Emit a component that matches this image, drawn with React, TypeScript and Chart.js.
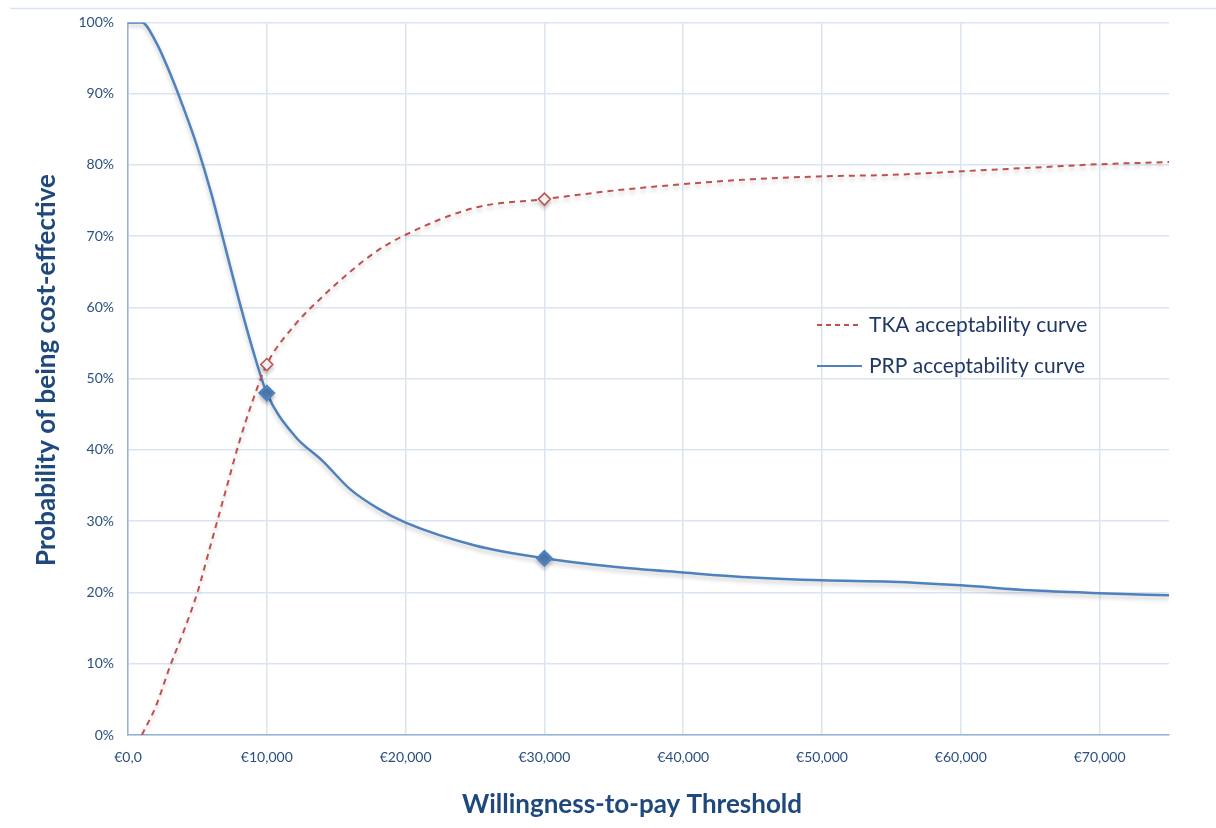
import React, { useEffect, useRef } from "react";
import { Chart, registerables } from "chart.js";

Chart.register(...registerables);

const wtp = [0, 1000, 2000, 3000, 4000, 5000, 6000, 7000, 8000, 9000, 10000, 12000, 14000, 16000, 18000, 20000, 25000, 30000, 35000, 40000, 45000, 50000, 55000, 60000, 65000, 70000, 75000];
const tka = [null, 0, 4, 9.5, 14.5, 20, 27, 34, 41, 47, 52, 57.5, 61.5, 65, 68, 70.2, 74, 75.2, 76.4, 77.3, 78, 78.4, 78.6, 79.1, 79.6, 80.1, 80.4];
const prp = [100, 100, 97.3, 93, 88, 82.5, 76, 68.5, 61, 54, 48, 42, 38.5, 34.5, 31.8, 29.8, 26.6, 24.8, 23.6, 22.8, 22.1, 21.7, 21.5, 21.0, 20.3, 19.9, 19.6];
const markerAt = [10000, 30000];
const xTickValues = [0, 10000, 20000, 30000, 40000, 50000, 60000, 70000];
const xTickLabels = ["€0,0", "€10,000", "€20,000", "€30,000", "€40,000", "€50,000", "€60,000", "€70,000"];
const seriesNames = ["TKA acceptability curve", "PRP acceptability curve"];
const xTitle = "Willingness-to-pay Threshold";
const yTitle = "Probability of being cost-effective";

const RED = "#c0504d";
const BLUE = "#4f81bd";
const TXT = "#2b4f80";
const TITLE = "#1f497d";
const FONT = "Lato, 'Open Sans', sans-serif";

export default function App() {
  const ref = useRef<HTMLCanvasElement>(null);
  useEffect(() => {
    if (!ref.current) return;
    const radii = wtp.map((v) => (markerAt.includes(v) ? 6 : 0));
    const shadowPlugin = {
      id: "shadow",
      beforeDatasetDraw(chart: any) {
        const c = chart.ctx;
        c.save();
        c.shadowColor = "rgba(0,0,0,0.22)";
        c.shadowBlur = 4;
        c.shadowOffsetY = 3;
      },
      afterDatasetDraw(chart: any) {
        chart.ctx.restore();
      },
    };
    const decor = {
      id: "decor",
      beforeDraw(chart: any) {
        const c = chart.ctx;
        c.save();
        c.strokeStyle = "#dbe5f1";
        c.lineWidth = 1.5;
        c.beginPath();
        c.moveTo(10, 8.5);
        c.lineTo(1216, 8.5);
        c.stroke();
        c.restore();
      },
      afterDraw(chart: any) {
        const c = chart.ctx;
        c.save();
        c.fillStyle = TITLE;
        c.font = `bold 26px ${FONT}`;
        c.textAlign = "center";
        c.textBaseline = "middle";
        c.fillText(xTitle, 632, 805);
        c.translate(47, 370);
        c.rotate(-Math.PI / 2);
        c.fillText(yTitle, 0, 0);
        c.restore();
        // legend
        c.save();
        c.font = `21px ${FONT}`;
        c.textBaseline = "middle";
        c.fillStyle = "#1f3864";
        const items = [
          { y: 325, color: RED, dash: [5, 4] },
          { y: 366, color: BLUE, dash: [] },
        ];
        items.forEach((it, i) => {
          c.strokeStyle = it.color;
          c.lineWidth = 2;
          c.setLineDash(it.dash);
          c.beginPath();
          c.moveTo(817, it.y);
          c.lineTo(862, it.y);
          c.stroke();
          c.setLineDash([]);
          c.fillText(seriesNames[i], 869, it.y);
        });
        c.restore();
      },
    };
    const chart = new Chart(ref.current, {
      type: "line",
      data: {
        labels: wtp,
        datasets: [
          {
            label: seriesNames[0],
            data: wtp.map((x, i) => ({ x, y: tka[i] })),
            borderColor: RED,
            borderWidth: 2,
            borderDash: [6, 5],
            pointStyle: "rectRot",
            pointRadius: radii,
            pointBackgroundColor: "#ffffff",
            pointBorderColor: RED,
            pointBorderWidth: 1.5,
            cubicInterpolationMode: "monotone",
            fill: false,
            spanGaps: true,
          },
          {
            label: seriesNames[1],
            data: wtp.map((x, i) => ({ x, y: prp[i] })),
            borderColor: BLUE,
            borderWidth: 2.5,
            pointStyle: "rectRot",
            pointRadius: radii.map((r) => (r ? 7 : 0)),
            pointBackgroundColor: BLUE,
            pointBorderColor: BLUE,
            cubicInterpolationMode: "monotone",
            fill: false,
          },
        ],
      },
      options: {
        animation: false,
        responsive: false,
        maintainAspectRatio: false,
        layout: { padding: { top: 20, right: 47, left: 0, bottom: 0 } },
        plugins: { legend: { display: false }, tooltip: { enabled: false } },
        scales: {
          x: {
            type: "linear",
            min: 0,
            max: 75000,
            afterBuildTicks(scale: any) {
              scale.ticks = xTickValues.map((v) => ({ value: v }));
            },
            afterFit(scale: any) {
              scale.height = 93;
            },
            grid: { color: "#dbe5f1", lineWidth: 1.5, drawTicks: false },
            border: { color: "#95b3d7", width: 1.5 },
            ticks: {
              padding: 14,
              color: TXT,
              font: { family: FONT, size: 14 },
              maxRotation: 0,
              callback: (v: any) => xTickLabels[xTickValues.indexOf(Number(v))] ?? "",
            },
          },
          y: {
            min: 0,
            max: 100,
            afterFit(scale: any) {
              scale.width = 128;
            },
            grid: { color: "#dbe5f1", lineWidth: 1.5, drawTicks: false },
            border: { color: "#95b3d7", width: 1.5 },
            ticks: {
              stepSize: 10,
              padding: 14,
              color: TXT,
              font: { family: FONT, size: 14 },
              callback: (v: any) => `${v}%`,
            },
          },
        },
      },
      plugins: [shadowPlugin, decor],
    } as any);
    return () => chart.destroy();
  }, []);
  return (
    <div style={{ position: "fixed", left: 0, top: 0, width: 1216, height: 828, background: "#fff" }}>
      <canvas ref={ref} width={1216} height={828} style={{ width: 1216, height: 828 }} />
    </div>
  );
}
